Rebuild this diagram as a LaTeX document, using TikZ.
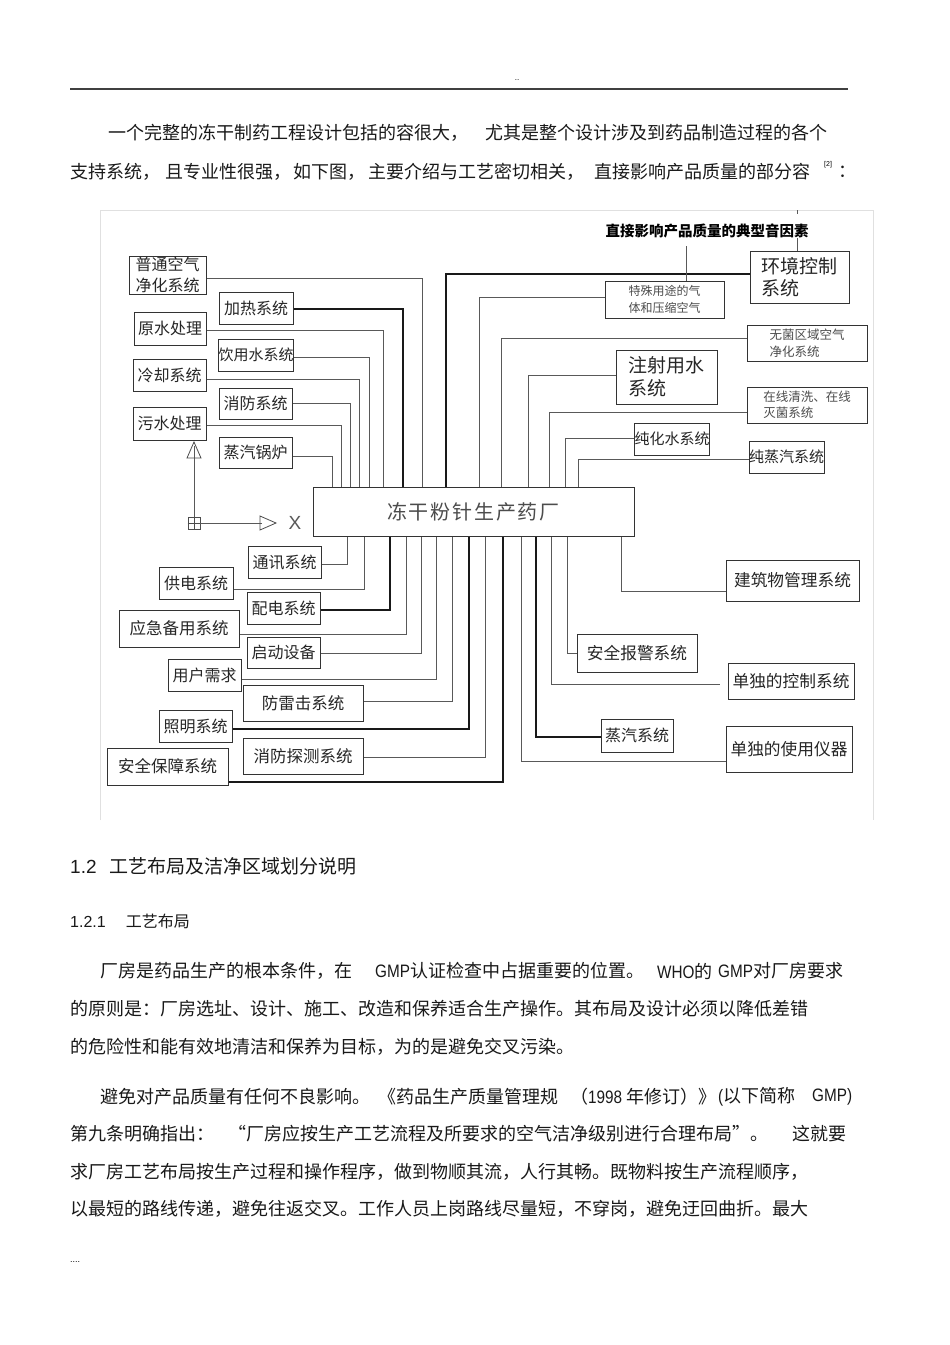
\documentclass[tikz,border=0pt]{standalone}
\usepackage{fontspec}
\setmainfont{Liberation Sans}
\newfontfamily\cjk{Noto Sans CJK SC}
\newfontfamily\latf{Liberation Sans}
\newfontfamily\latn[FakeStretch=0.85]{Liberation Sans}
\newcommand\bodyf{\cjk\fontsize{18}{21}\selectfont}
\newcommand\lt[1]{{\latn #1}}
\begin{document}
\begin{tikzpicture}[x=1pt,y=-1pt,
  bx/.style={draw=black!80, line width=1pt, inner sep=0pt, font=\cjk\fontsize{16}{19}\selectfont, text=black!85},
  ln/.style={draw=black!65, line width=0.9pt},
  thk/.style={draw=black!90, line width=1.6pt},
  txt/.style={anchor=west, inner sep=0pt, font=\bodyf, text=black!90}]
\useasboundingbox (0,0) rectangle (950,1345);
\fill[white] (0,0) rectangle (950,1345);

% header
\node[font=\latf\fontsize{8}{9}\selectfont] (dots) at (517,80) {..};
\coordinate (hl) at (70,89); \coordinate (hr) at (848,89);
\draw[black!75, line width=1.1pt] (hl) -- (hr);

% intro paragraph
\node[txt] (p1a) at (108,133) {一个完整的冻干制药工程设计包括的容很大，};
\node[txt] (p1b) at (485,133) {尤其是整个设计涉及到药品制造过程的各个};
\node[txt] (p2a) at (70,172) {支持系统，};
\node[txt] (p2b) at (165,172) {且专业性很强，};
\node[txt] (p2c) at (293,172) {如下图，};
\node[txt] (p2d) at (368,172) {主要介绍与工艺密切相关，};
\node[txt] (p2e) at (594,172) {直接影响产品质量的部分容};
\node[anchor=west, inner sep=0pt, font=\latf\fontsize{7}{8}\selectfont] (p2f) at (824,165) {[2]};
\node[txt] (p2g) at (838,172) {：};

% figure frame
\draw[black!12, line width=0.8pt] (100,820) -- (100,210) -- (873,210) -- (873,820);

% main node
\node[bx, minimum width=321pt, minimum height=49pt, font=\cjk\fontsize{20}{22}\selectfont\addfontfeature{LetterSpace=9}, text=black!70] (main) at (473.5,511.5) {冻干粉针生产药厂};

% left top boxes
\node[bx, minimum width=77pt, minimum height=38pt, align=center, font=\cjk\fontsize{16}{21}\selectfont] (ptkq) at (167.5,275) {普通空气\\净化系统};
\node[bx, minimum width=74pt, minimum height=32pt] (jr) at (256,308) {加热系统};
\node[bx, minimum width=72pt, minimum height=33pt] (ys) at (170,328.5) {原水处理};
\node[bx, minimum width=74pt, minimum height=32pt, font=\cjk\fontsize{15}{18}\selectfont] (yys) at (256,355) {饮用水系统};
\node[bx, minimum width=73pt, minimum height=32pt] (lq) at (169.5,375) {冷却系统};
\node[bx, minimum width=73pt, minimum height=31pt] (xf) at (255.5,403.5) {消防系统};
\node[bx, minimum width=73pt, minimum height=33pt] (wscl) at (169.5,423.5) {污水处理};
\node[bx, minimum width=73pt, minimum height=31pt] (zqgl) at (255.5,452.5) {蒸汽锅炉};

% right top boxes
\node[font=\cjk\bfseries\fontsize{14.5}{16}\selectfont, inner sep=0pt] (title) at (707,231) {直接影响产品质量的典型音因素};
\node[bx, minimum width=99pt, minimum height=52pt, align=left, font=\cjk\fontsize{19}{22}\selectfont] (hjkz) at (799.5,277) {环境控制\\系统};
\node[bx, minimum width=119pt, minimum height=37pt, align=center, font=\cjk\fontsize{12}{17}\selectfont, text=black!70] (tsyt) at (664.5,299.5) {特殊用途的气\\体和压缩空气};
\node[bx, minimum width=120pt, minimum height=36pt, align=left, font=\cjk\fontsize{12.5}{17}\selectfont, text=black!70] (wjqy) at (807,343) {无菌区域空气\\净化系统};
\node[bx, minimum width=101pt, minimum height=54pt, align=left, font=\cjk\fontsize{19}{23}\selectfont] (zsys) at (666.5,377) {注射用水\\系统};
\node[bx, minimum width=120pt, minimum height=36pt, align=left, font=\cjk\fontsize{12.5}{16}\selectfont, text=black!70] (zxqx) at (807,405) {在线清洗、在线\\灭菌系统};
\node[bx, minimum width=74pt, minimum height=32pt, font=\cjk\fontsize{15}{18}\selectfont] (chs) at (672,439) {纯化水系统};
\node[bx, minimum width=73pt, minimum height=32pt, font=\cjk\fontsize{15}{18}\selectfont] (czq) at (786.5,457) {纯蒸汽系统};

% bottom left boxes
\node[bx, minimum width=73pt, minimum height=32pt] (tx) at (284.5,562) {通讯系统};
\node[bx, minimum width=74pt, minimum height=32pt] (gd) at (196,583) {供电系统};
\node[bx, minimum width=73pt, minimum height=32pt] (pd) at (283.5,608) {配电系统};
\node[bx, minimum width=120pt, minimum height=37pt, font=\cjk\fontsize{16.5}{19}\selectfont] (yjby) at (179,628.5) {应急备用系统};
\node[bx, minimum width=73pt, minimum height=31pt] (qdsb) at (283.5,652.5) {启动设备};
\node[bx, minimum width=73pt, minimum height=32pt] (yhxq) at (204.5,675) {用户需求};
\node[bx, minimum width=120pt, minimum height=36pt, font=\cjk\fontsize{16.5}{19}\selectfont] (flj) at (303,703) {防雷击系统};
\node[bx, minimum width=73pt, minimum height=32pt] (zm) at (195.5,726) {照明系统};
\node[bx, minimum width=120pt, minimum height=36pt, font=\cjk\fontsize{16.5}{19}\selectfont] (xftc) at (303,756) {消防探测系统};
\node[bx, minimum width=121pt, minimum height=37pt, font=\cjk\fontsize{16.5}{19}\selectfont] (aqbz) at (167.5,766.5) {安全保障系统};

% bottom right boxes
\node[bx, minimum width=133pt, minimum height=41pt, font=\cjk\fontsize{16.7}{19}\selectfont] (jzw) at (792.5,580.5) {建筑物管理系统};
\node[bx, minimum width=120pt, minimum height=38pt, font=\cjk\fontsize{16.7}{19}\selectfont] (bjxt) at (637,653) {安全报警系统};
\node[bx, minimum width=126pt, minimum height=36pt, font=\cjk\fontsize{16.7}{19}\selectfont] (kzxt) at (791,681) {单独的控制系统};
\node[bx, minimum width=72pt, minimum height=33pt] (zqxt) at (637,735.5) {蒸汽系统};
\node[bx, minimum width=126pt, minimum height=46pt, font=\cjk\fontsize{16.7}{19}\selectfont] (sydq) at (789,749) {单独的使用仪器};

% left top connectors
\coordinate (e1) at (422,278); \draw[ln] (ptkq.east |- e1) -- (e1) -- (main.north -| e1);
\coordinate (e2) at (403,309); \draw[thk] (jr.east |- e2) -- (e2) -- (main.north -| e2);
\coordinate (e3) at (383,330); \draw[ln] (ys.east |- e3) -- (e3) -- (main.north -| e3);
\coordinate (e4) at (369,357); \draw[ln] (yys.east |- e4) -- (e4) -- (main.north -| e4);
\coordinate (e5) at (359,379); \draw[ln] (lq.east |- e5) -- (e5) -- (main.north -| e5);
\coordinate (e6) at (350,403); \draw[ln] (xf.east |- e6) -- (e6) -- (main.north -| e6);
\coordinate (e7) at (341,425); \draw[ln] (wscl.east |- e7) -- (e7) -- (main.north -| e7);
\coordinate (e8) at (332,456); \draw[ln] (zqgl.east |- e8) -- (e8) -- (main.north -| e8);

% right top connectors
\coordinate (e9) at (446,274); \draw[thk] (hjkz.west |- e9) -- (e9) -- (main.north -| e9);
\coordinate (e10) at (479,297); \draw[ln] (tsyt.west |- e10) -- (e10) -- (main.north -| e10);
\coordinate (e11) at (501,338); \draw[ln] (wjqy.west |- e11) -- (e11) -- (main.north -| e11);
\coordinate (e12) at (528,375); \draw[ln] (zsys.west |- e12) -- (e12) -- (main.north -| e12);
\coordinate (e13) at (549,412); \draw[ln] (zxqx.west |- e13) -- (e13) -- (main.north -| e13);
\coordinate (e14) at (565,438); \draw[ln] (chs.west |- e14) -- (e14) -- (main.north -| e14);
\coordinate (e15) at (578,459); \draw[ln] (czq.west |- e15) -- (e15) -- (main.north -| e15);

% title links
\coordinate (t1) at (686,246); \draw[ln] (t1) -- (tsyt.north -| t1);
\coordinate (t2) at (797,238); \draw[ln] (t2) -- (hjkz.north -| t2);
\coordinate (t3) at (797,210); \coordinate (t4) at (797,214); \draw[ln] (t3) -- (t4);

% bottom left connectors
\coordinate (f1) at (347,564); \draw[ln] (tx.east |- f1) -- (f1) -- (main.south -| f1);
\coordinate (f2) at (364,589); \draw[ln] (gd.east |- f2) -- (f2) -- (main.south -| f2);
\coordinate (f3) at (390,610); \draw[thk] (pd.east |- f3) -- (f3) -- (main.south -| f3);
\coordinate (f4) at (406,634); \draw[ln] (yjby.east |- f4) -- (f4) -- (main.south -| f4);
\coordinate (f5) at (421,653); \draw[ln] (qdsb.east |- f5) -- (f5) -- (main.south -| f5);
\coordinate (f6) at (436,679); \draw[ln] (yhxq.east |- f6) -- (f6) -- (main.south -| f6);
\coordinate (f7) at (452,701); \draw[ln] (flj.east |- f7) -- (f7) -- (main.south -| f7);
\coordinate (f8) at (469,729); \draw[thk] (zm.east |- f8) -- (f8) -- (main.south -| f8);
\coordinate (f9) at (485,757); \draw[ln] (xftc.east |- f9) -- (f9) -- (main.south -| f9);
\coordinate (f10) at (503,782); \draw[thk] (aqbz.east |- f10) -- (f10) -- (main.south -| f10);

% bottom right connectors
\coordinate (g1) at (521,761); \draw[ln] (main.south -| g1) -- (g1) -- (sydq.west |- g1);
\coordinate (g2) at (536,737); \draw[thk] (main.south -| g2) -- (g2) -- (zqxt.west |- g2);
\coordinate (g3) at (551,684); \coordinate (g3e) at (720,684); \draw[ln] (main.south -| g3) -- (g3) -- (g3e);
\coordinate (g4) at (567,653); \draw[ln] (main.south -| g4) -- (g4) -- (bjxt.west |- g4);
\coordinate (g5) at (621,591); \draw[ln] (main.south -| g5) -- (g5) -- (jzw.west |- g5);

% axis symbol
\node[draw=black!70, line width=0.8pt, minimum size=12pt, inner sep=0pt] (axb) at (194,523) {};
\draw[black!70, line width=0.7pt] (axb.north) -- (axb.south) (axb.west) -- (axb.east);
\coordinate (ayt) at (194,446); \coordinate (axt) at (262,523);
\draw[ln] (axb.north) -- (ayt);
\draw[ln] (axb.east) -- (axt);
\draw[black!70, line width=0.8pt] (194,442) -- (201,458) -- (187,458) -- cycle;
\draw[black!70, line width=0.8pt] (260,516) -- (276,523) -- (260,530) -- cycle;
\node[font=\latf\fontsize{19}{20}\selectfont, text=black!65, inner sep=0pt] (xl) at (295,523) {X};

% section text
\node[anchor=west, inner sep=0pt, text=black!90] (h1) at (70,866) {\latf\fontsize{19}{22}\selectfont 1.2\hspace{13pt}\cjk 工艺布局及洁净区域划分说明};
\node[anchor=west, inner sep=0pt, text=black!90] (h2) at (70,921) {\latf\fontsize{16}{19}\selectfont 1.2.1\hspace{20pt}\cjk 工艺布局};

\node[txt] (q1a) at (100,971) {厂房是药品生产的根本条件，在};
\node[txt] (q1b) at (375,971) {\lt{GMP}认证检查中占据重要的位置。};
\node[txt] (q1c) at (657,971) {\lt{WHO}的};
\node[txt] (q1d) at (718,971) {\lt{GMP}对厂房要求};
\node[txt] (q2) at (70,1009) {的原则是：厂房选址、设计、施工、改造和保养适合生产操作。其布局及设计必须以降低差错};
\node[txt] (q3) at (70,1047) {的危险性和能有效地清洁和保养为目标，为的是避免交叉污染。};
\node[txt] (q4a) at (100,1097) {避免对产品质量有任何不良影响。};
\node[txt] (q4b) at (378,1097) {《药品生产质量管理规};
\node[txt] (q4c) at (570,1097) {（\lt{1998} 年修订）》};
\node[txt] (q4d) at (718,1097) {\lt{(}以下简称};
\node[txt] (q4e) at (812,1097) {\lt{GMP)}};
\node[txt] (q5a) at (70,1134) {第九条明确指出：};
\node[txt] (q5b) at (228,1134) {“厂房应按生产工艺流程及所要求的空气洁净级别进行合理布局”。};
\node[txt] (q5c) at (792,1134) {这就要};
\node[txt] (q6) at (70,1172) {求厂房工艺布局按生产过程和操作程序，做到物顺其流，人行其畅。既物料按生产流程顺序，};
\node[txt] (q7) at (70,1209) {以最短的路线传递，避免往返交叉。工作人员上岗路线尽量短，不穿岗，避免迂回曲折。最大};
\node[anchor=west, inner sep=0pt, font=\latf\fontsize{9}{10}\selectfont] (enddots) at (70,1262) {....};
\end{tikzpicture}
\end{document}
